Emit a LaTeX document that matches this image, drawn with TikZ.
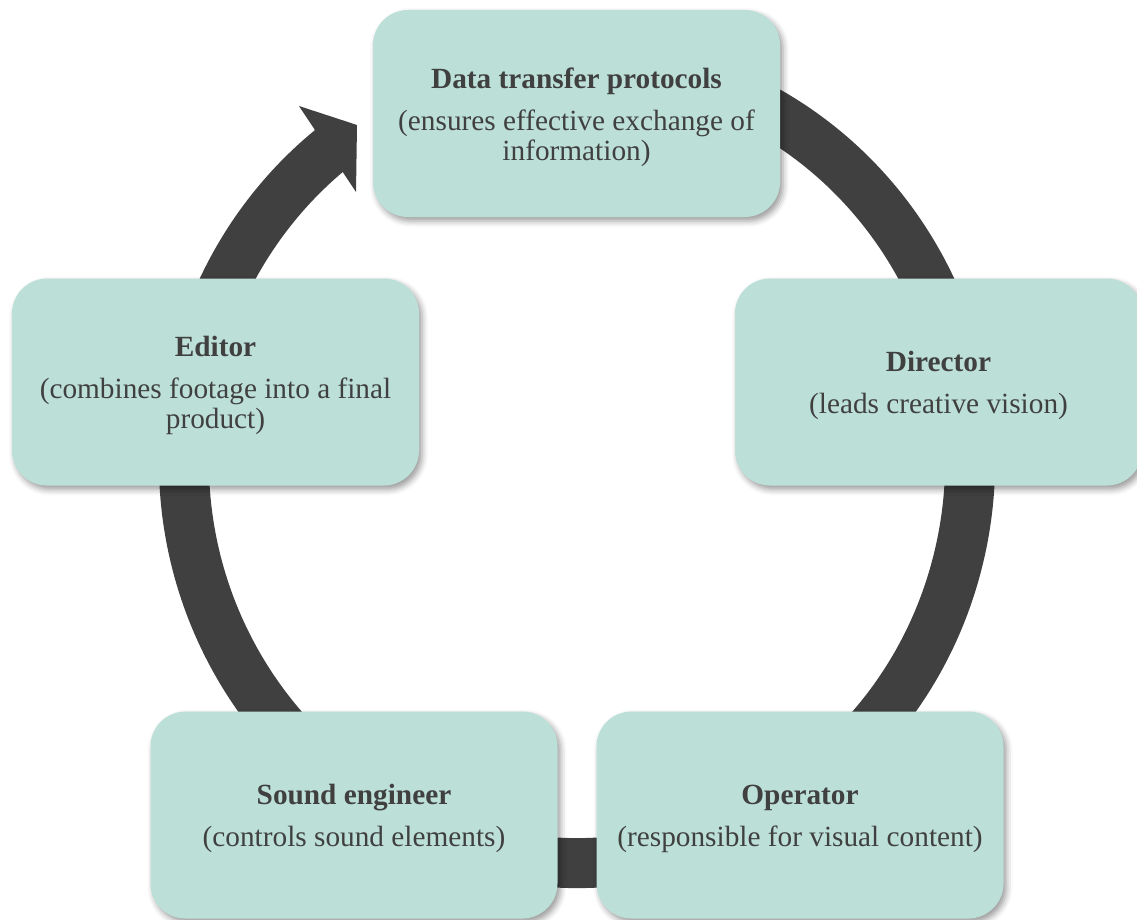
\documentclass[tikz,border=0pt]{standalone}
\usepackage{fontspec}
\setmainfont{Liberation Serif}
\usetikzlibrary{shadows.blur}

\definecolor{rolefill}{HTML}{BCE0D7}
\definecolor{ringgray}{HTML}{404040}
\definecolor{textgray}{HTML}{404040}

% bold heading of a box, with a strut that pushes the text block down a little
\newcommand{\roletitle}[1]{\rule{0pt}{28pt}\textbf{#1}}

\begin{document}
\begin{tikzpicture}[
    x=1pt, y=1pt,
    every node/.style={font=\fontsize{29.3}{30}\selectfont, text=textgray},
    role/.style={rectangle, rounded corners=35pt, fill=rolefill,
        minimum width=407pt, minimum height=207pt, align=center,
        blur shadow={shadow xshift=3pt, shadow yshift=-4pt,
            shadow blur radius=6pt, shadow opacity=40}}
]

\useasboundingbox (0,0) rectangle (1137,-920);

% Cycle ring behind the boxes
\coordinate (hub) at (577,-462);
\draw[ringgray, line width=50pt] (hub) ++(75:393pt and 401pt)
    arc[start angle=75, end angle=-233, x radius=393pt, y radius=401pt];

% Arrow head
\fill[ringgray] (299,-106) -- (357,-125) -- (356,-192) -- cycle;

% Roles
\node[role] (data) at (576.5,-113.5)
    {\roletitle{Data transfer protocols}\\[12pt](ensures effective exchange of\\information)};
\node[role] (director) at (938.5,-382)
    {\roletitle{Director}\\[12pt](leads creative vision)};
\node[role] (operator) at (800,-815)
    {\roletitle{Operator}\\[12pt](responsible for visual content)};
\node[role] (sound) at (354,-815)
    {\roletitle{Sound engineer}\\[12pt](controls sound elements)};
\node[role] (editor) at (215.5,-382)
    {\roletitle{Editor}\\[12pt](combines footage into a final\\product)};

\end{tikzpicture}
\end{document}
